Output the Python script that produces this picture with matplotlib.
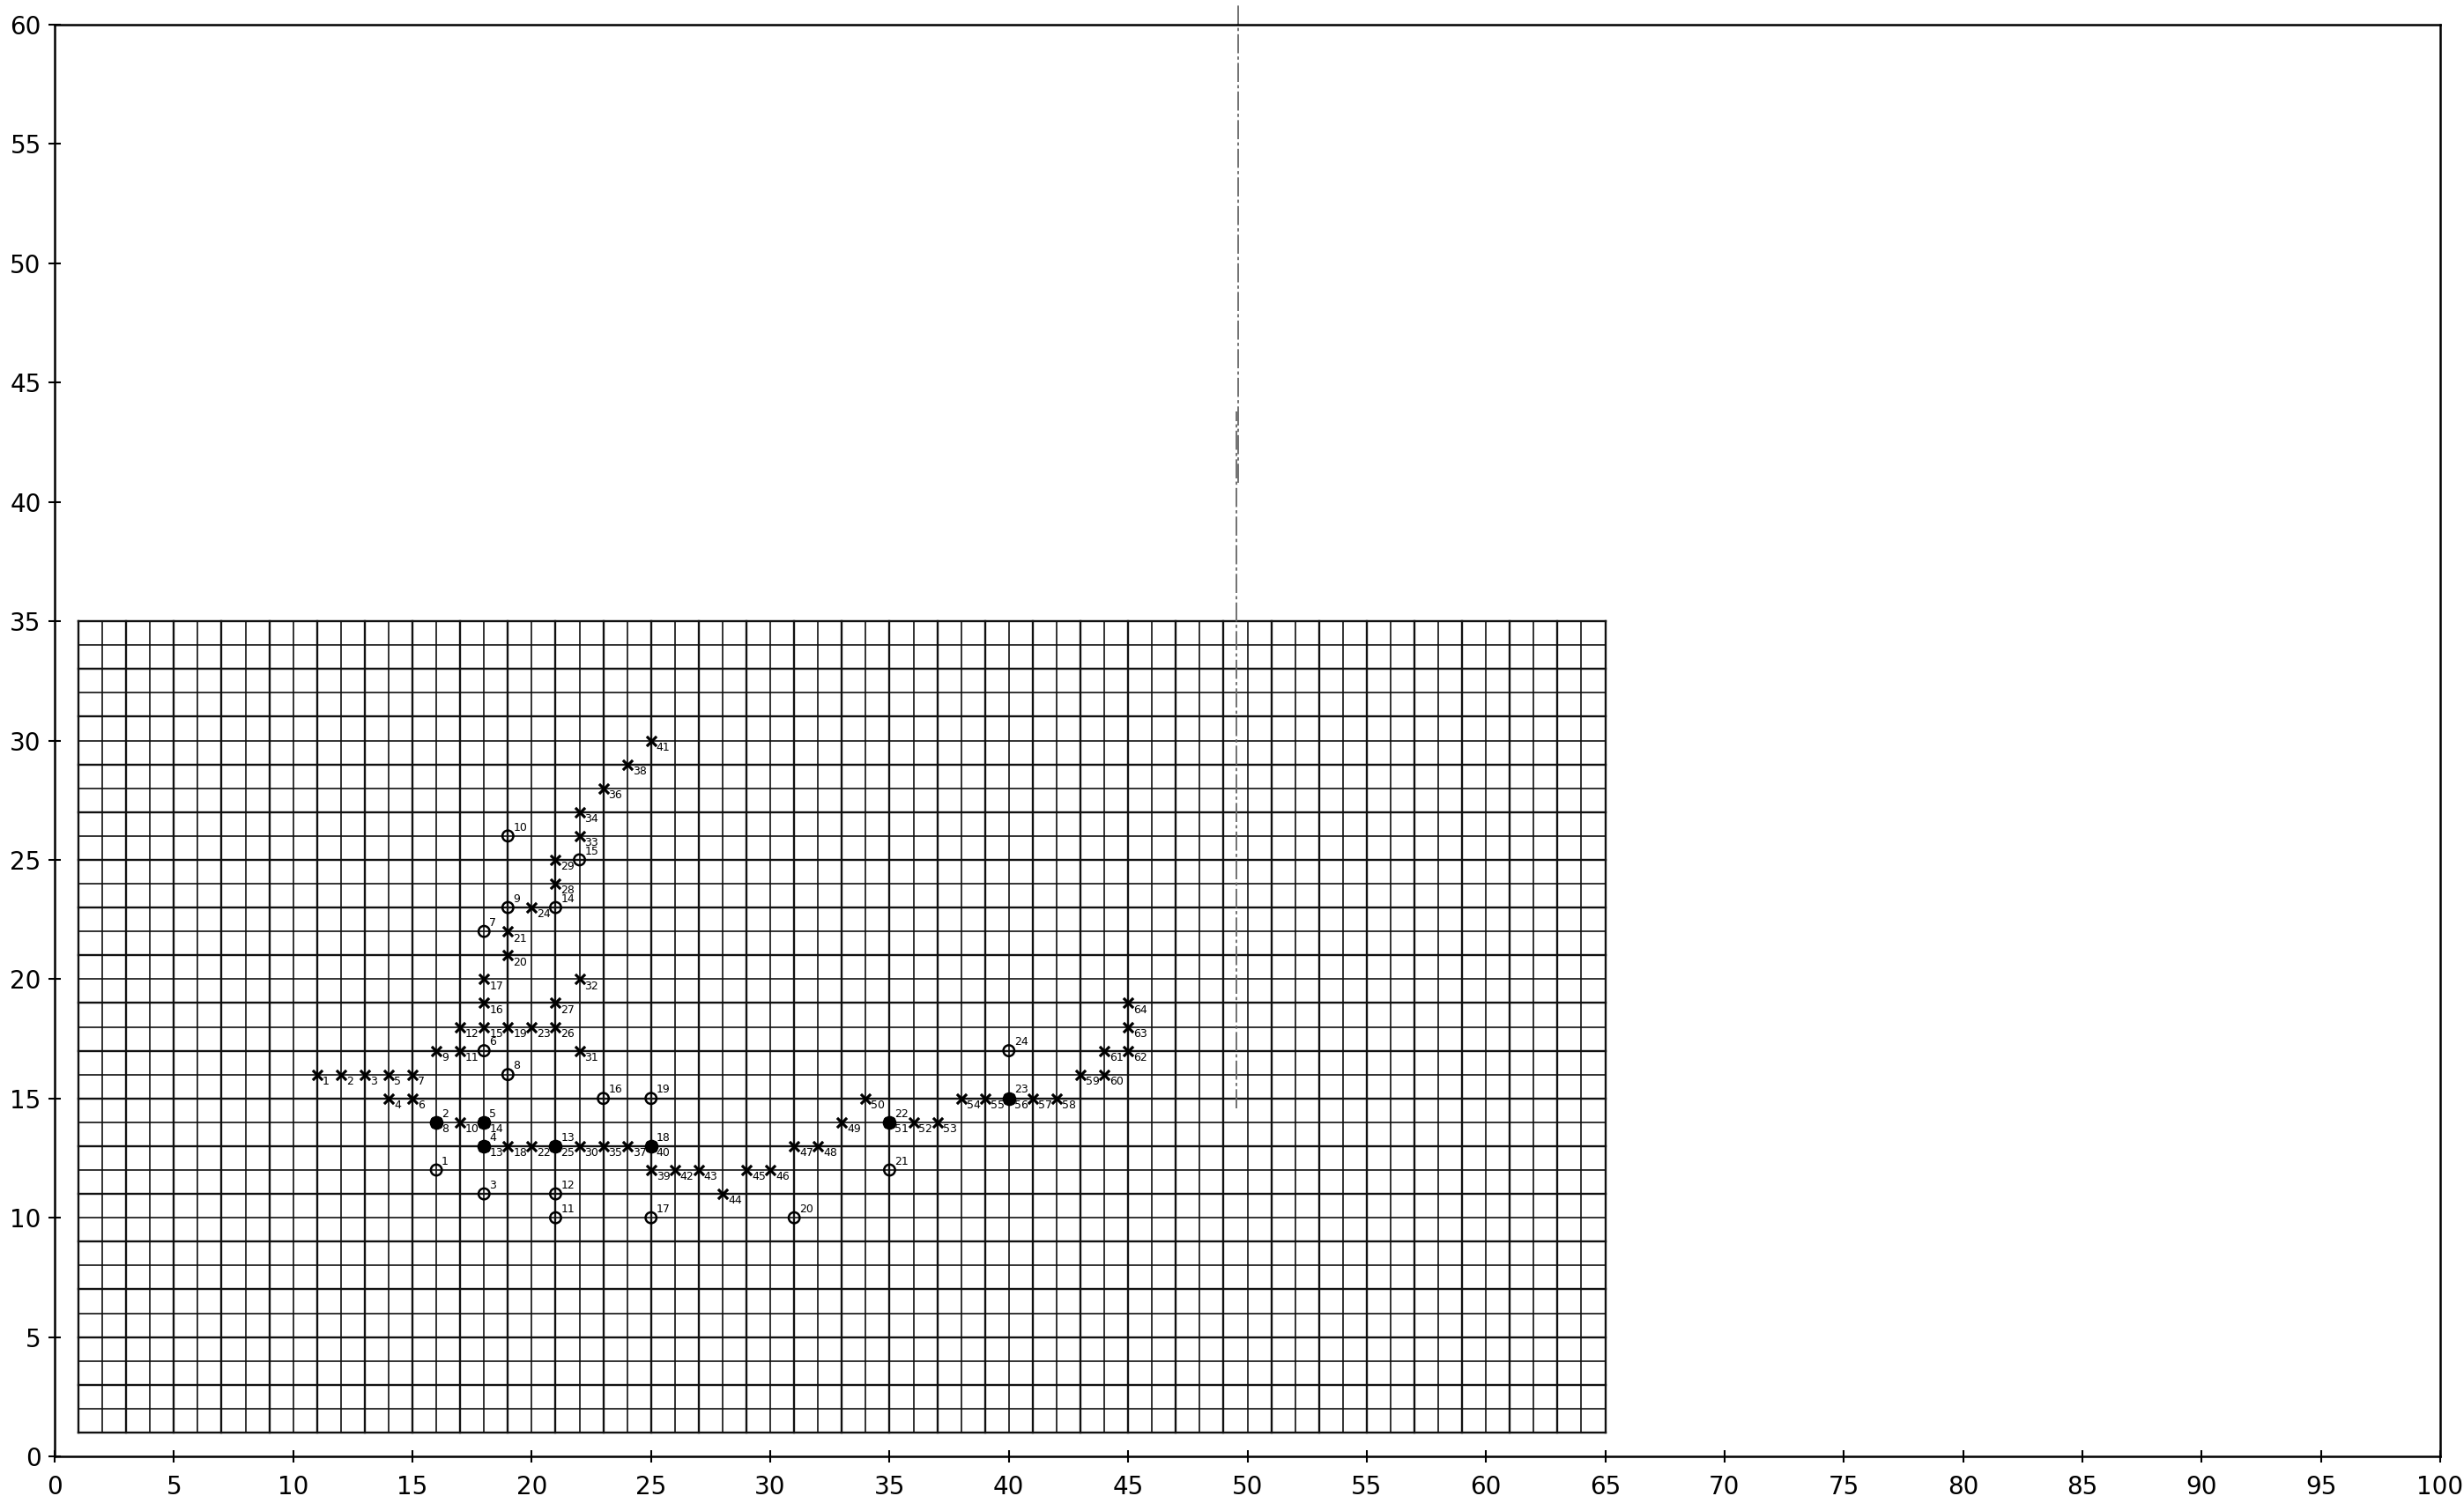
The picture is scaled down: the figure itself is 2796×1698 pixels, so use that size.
import matplotlib
matplotlib.use("Agg")
import matplotlib.pyplot as plt
import numpy as np

# ---- data ----
star_x = [11, 12, 13, 14, 14, 15, 15, 16, 16, 17, 17, 17, 18, 18, 18, 18, 18, 19, 19, 19,
          19, 20, 20, 20, 21, 21, 21, 21, 21, 22, 22, 22, 22, 22, 23, 23, 24, 24, 25, 25,
          25, 26, 27, 28, 29, 30, 31, 32, 33, 34, 35, 36, 37, 38, 39, 40, 41, 42, 43, 44,
          44, 45, 45, 45]
star_y = [16, 16, 16, 15, 16, 15, 16, 14, 17, 14, 17, 18, 13, 14, 18, 19, 20, 13, 18, 21,
          22, 13, 18, 23, 13, 18, 19, 24, 25, 13, 17, 20, 26, 27, 13, 28, 13, 29, 12, 13,
          30, 12, 12, 11, 12, 12, 13, 13, 14, 15, 14, 14, 14, 15, 15, 15, 15, 15, 16, 16,
          17, 17, 18, 19]
star_labels = [str(i) for i in range(1, 65)]

circ_x = [16, 16, 18, 18, 18, 18, 18, 19, 19, 19, 21, 21, 21, 21, 22, 23, 25, 25, 25, 31,
          35, 35, 40, 40]
circ_y = [12, 14, 11, 13, 14, 17, 22, 16, 23, 26, 10, 11, 13, 23, 25, 15, 10, 13, 15, 10,
          12, 14, 15, 17]
circ_filled = [False, True, False, True, True, False, False, False, False, False, False, False,
               True, False, False, False, False, True, False, False, False, True, True, False]
circ_labels = [str(i) for i in range(1, 25)]

grid_x = list(range(1, 66))
grid_y = list(range(1, 36))

x_ticks = list(range(0, 101, 5))
y_ticks = list(range(0, 61, 5))

# ---- figure ----
fig = plt.figure(figsize=(27.96, 16.98), dpi=100)
ax = fig.add_axes([62 / 2796, 1 - 1653 / 1698, (2769 - 62) / 2796, (1653 - 28) / 1698])
ax.set_xlim(0, 100)
ax.set_ylim(0, 60)

# graph-paper grid
for i, gx in enumerate(grid_x):
    lw = 1.7 if i % 2 == 0 else 1.2
    ax.plot([gx, gx], [grid_y[0], grid_y[-1]], color="#111111", lw=lw, zorder=1)
for i, gy in enumerate(grid_y):
    lw = 1.7 if i % 2 == 0 else 1.2
    ax.plot([grid_x[0], grid_x[-1]], [gy, gy], color="#111111", lw=lw, zorder=1)

# fold line
ax.plot([49.6, 49.6], [40.8, 60.8], color="#666666", lw=1.3, ls=(0, (12, 2, 2, 2)),
        clip_on=False, zorder=2)
ax.plot([49.55, 49.55], [14.6, 43.8], color="#666666", lw=1.3, ls=(0, (12, 2, 2, 2)),
        zorder=2)

# circles
cx = np.array(circ_x); cy = np.array(circ_y); cf = np.array(circ_filled)
ax.scatter(cx[~cf], cy[~cf], s=80, facecolors="none", edgecolors="black", linewidths=1.8, zorder=4)
ax.scatter(cx[cf], cy[cf], s=90, facecolors="black", edgecolors="black", linewidths=1.8, zorder=4)
for x, y, t in zip(circ_x, circ_y, circ_labels):
    ax.text(x + 0.22, y + 0.12, t, fontsize=9, ha="left", va="bottom", zorder=6)

# stars
ax.scatter(star_x, star_y, s=65, marker="x", color="black", linewidths=2.3, zorder=5)
for x, y, t in zip(star_x, star_y, star_labels):
    ax.text(x + 0.22, y - 0.05, t, fontsize=9, ha="left", va="top", zorder=6)

# axes styling
for sp in ax.spines.values():
    sp.set_linewidth(1.8)
    sp.set_color("black")
ax.set_xticks(x_ticks)
ax.set_yticks(y_ticks)
ax.tick_params(axis="both", direction="inout", length=10, width=1.5, labelsize=20, pad=6,
               colors="black", labelcolor="black")
ax.tick_params(axis="x", pad=10)

fig.savefig("out.png", dpi=100, facecolor="white")
